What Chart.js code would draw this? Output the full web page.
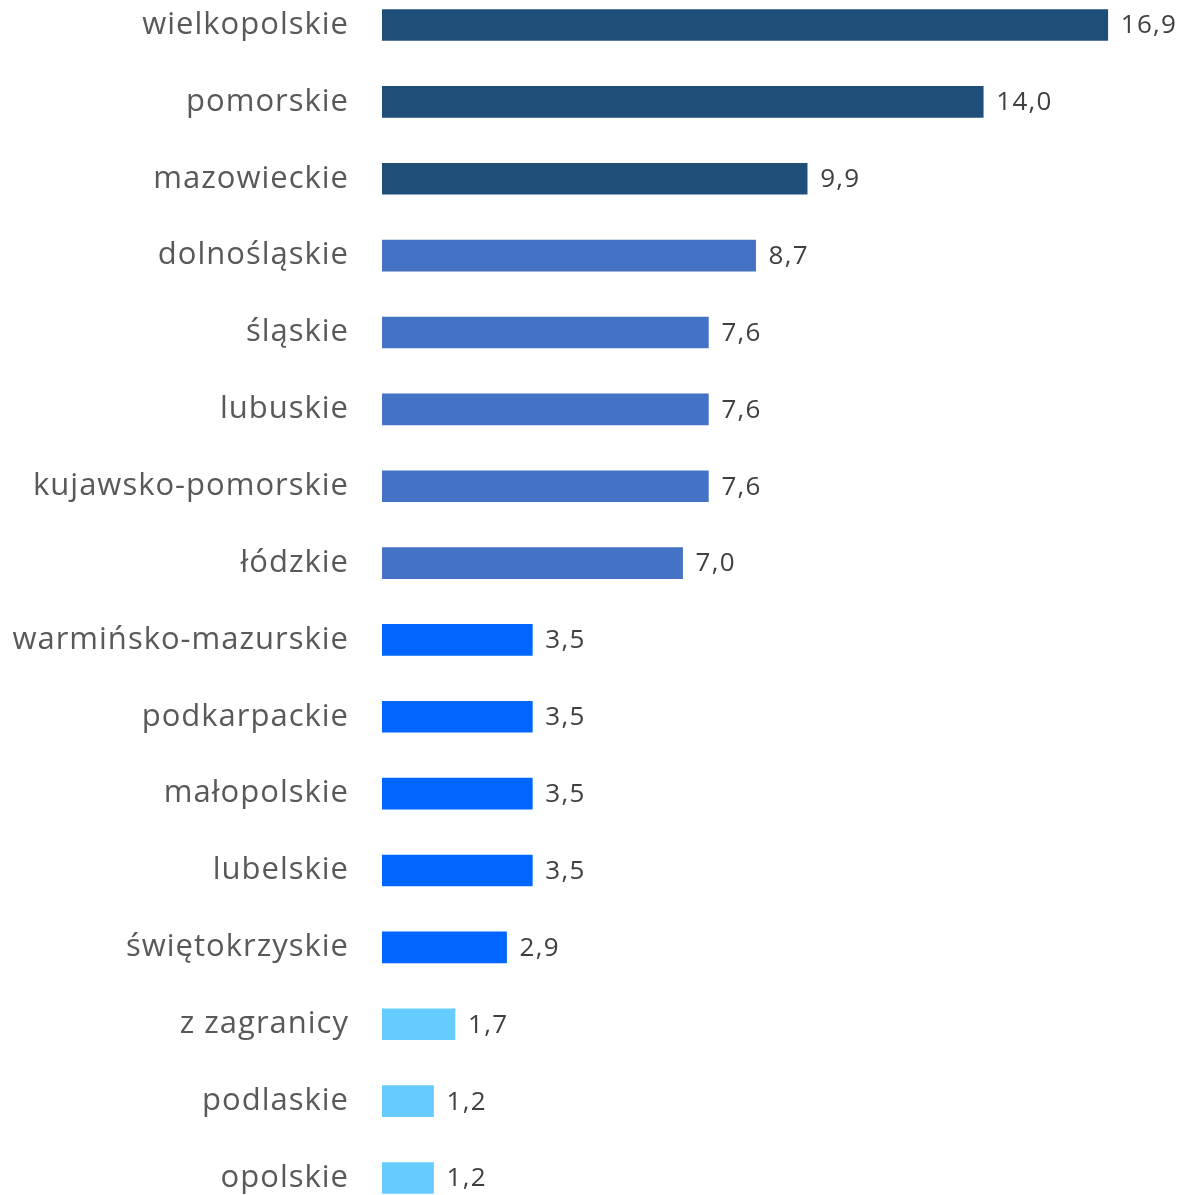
<!DOCTYPE html>
<html>
<head>
<meta charset="utf-8">
<script src="https://cdn.jsdelivr.net/npm/chart.js@4"></script>
<style>
  html, body { margin: 0; padding: 0; background: #fff; overflow: hidden; }
  #myChart { position: absolute; left: 0; top: -65px; }
</style>
</head>
<body>
<canvas id="myChart" width="1184" height="1333"></canvas>
<script>
const regions = ['wielkopolskie', 'pomorskie', 'mazowieckie', 'dolnośląskie', 'śląskie', 'lubuskie',
  'kujawsko-pomorskie', 'łódzkie', 'warmińsko-mazurskie', 'podkarpackie', 'małopolskie', 'lubelskie',
  'świętokrzyskie', 'z zagranicy', 'podlaskie', 'opolskie'];
const shares = [16.9, 14.0, 9.9, 8.7, 7.6, 7.6, 7.6, 7.0, 3.5, 3.5, 3.5, 3.5, 2.9, 1.7, 1.2, 1.2];
const groups = [0, 0, 0, 1, 1, 1, 1, 1, 2, 2, 2, 2, 2, 3, 3, 3];
const groupColors = ['#1F4E79', '#4472C4', '#0066FF', '#66CCFF'];

// a bit wider letter spacing, closer to the original font
const spacing = {
  id: 'spacing',
  beforeDraw(chart) {
    chart.ctx.letterSpacing = '1px';
  }
};

// value labels at bar ends
const valueLabels = {
  id: 'valueLabels',
  afterDatasetsDraw(chart) {
    const ctx = chart.ctx;
    const meta = chart.getDatasetMeta(0);
    ctx.save();
    ctx.font = '26px "Open Sans"';
    ctx.letterSpacing = '1.3px';
    ctx.fillStyle = '#404040';
    ctx.textAlign = 'left';
    ctx.textBaseline = 'middle';
    meta.data.forEach((bar, i) => {
      ctx.fillText(shares[i].toFixed(1).replace('.', ','), bar.x + 13, bar.y + 1);
    });
    ctx.restore();
  }
};

var ctx = document.getElementById('myChart');

var myChart = new Chart(ctx, {
  type: 'bar',
  data: {
    labels: regions,
    datasets: [{
      data: shares,
      backgroundColor: groups.map(g => groupColors[g]),
      barThickness: 31
    }]
  },
  options: {
    indexAxis: 'y',
    responsive: false,
    animation: false,
    layout: { padding: { left: 0, right: 29, top: 0, bottom: 0 } },
    plugins: { legend: { display: false }, tooltip: { enabled: false } },
    scales: {
      x: {
        min: 0,
        max: 18,
        display: false
      },
      y: {
        grid: { display: false, drawTicks: false },
        border: { display: false },
        afterFit: (axis) => { axis.width = 382; },
        ticks: {
          padding: 33,
          color: '#595959',
          font: { family: 'Open Sans', size: 31 }
        }
      }
    }
  },
  plugins: [spacing, valueLabels]
});
</script>
</body>
</html>
